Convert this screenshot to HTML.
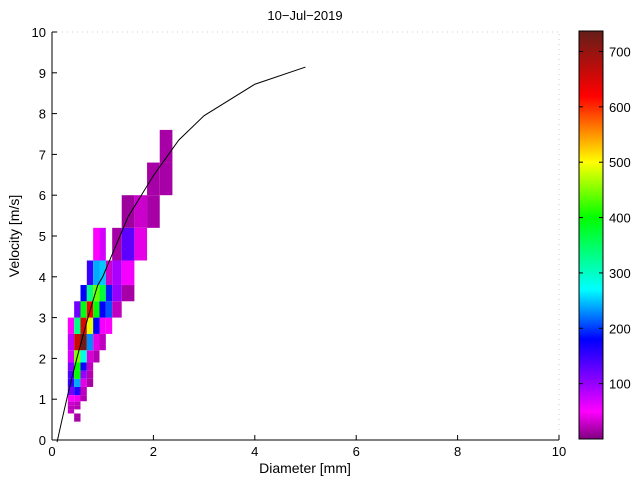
<!DOCTYPE html>
<html><head><meta charset="utf-8"><style>
body{margin:0;background:#fff;}
svg{display:block;font-family:"Liberation Sans",Arial,sans-serif;}
</style></head><body>
<svg id="chart" width="640" height="480" viewBox="0 0 640 480">
<rect width="640" height="480" fill="#fff"/>
<text x="305" y="20" font-size="13" text-anchor="middle">10−Jul−2019</text>
<g id="cells"></g>
<g id="axes"></g>
<g id="cbar"></g>
<text x="305" y="473" font-size="14" text-anchor="middle">Diameter [mm]</text>
<text transform="translate(19,236) rotate(-90)" font-size="14" text-anchor="middle">Velocity [m/s]</text>
</svg>
<script>
// Diameter bin edges (mm) and velocity bin edges (m/s)
const xEdges = [0.312,0.437,0.562,0.687,0.812,0.937,1.062,1.187,1.375,1.625,1.875,2.125,2.375];
const yEdges = [0.45,0.55,0.65,0.75,0.85,0.95,1.1,1.3,1.5,1.7,1.9,2.2,2.6,3.0,3.4,3.8,4.4,5.2,6.0,6.8,7.6];
// counts[row][col], row 0 = lowest velocity bin; 0 = empty
const counts = [
 [0,15,0,0,0,0,0,0,0,0,0,0],
 [0,15,0,0,0,0,0,0,0,0,0,0],
 [25,0,0,0,0,0,0,0,0,0,0,0],
 [25,20,0,0,0,0,0,0,0,0,0,0],
 [30,25,0,0,0,0,0,0,0,0,0,0],
 [50,45,20,0,0,0,0,0,0,0,0,0],
 [120,160,25,0,0,0,0,0,0,0,0,0],
 [150,240,40,15,0,0,0,0,0,0,0,0],
 [140,400,100,20,0,0,0,0,0,0,0,0],
 [110,400,170,25,0,0,0,0,0,0,0,0],
 [70,450,280,35,20,0,0,0,0,0,0,0],
 [80,660,730,230,40,25,0,0,0,0,0,0],
 [50,330,650,490,180,55,50,0,0,0,0,0],
 [0,120,390,620,400,180,210,25,0,0,0,0],
 [0,0,180,330,440,370,190,100,15,0,0,0],
 [0,0,0,150,240,250,30,90,55,0,0,0],
 [0,0,0,0,50,70,0,15,130,40,0,0],
 [0,0,0,0,0,0,0,0,12,30,15,0],
 [0,0,0,0,0,0,0,0,0,0,15,15],
 [0,0,0,0,0,0,0,0,0,0,0,15]
];
// Fitted fall-speed curve
const fitD = [0.1,0.2,0.3,0.4,0.5,0.6,0.7,0.8,0.9,1.0,1.5,2.0,2.5,3.0,4.0,5.0];
const fitV = [-0.05,0.51,1.05,1.56,2.05,2.51,2.96,3.38,3.79,4.00,5.47,6.48,7.35,7.95,8.72,9.14];
const xTicks = [0,2,4,6,8,10];
const yTicks = [0,1,2,3,4,5,6,7,8,9,10];
const cbTicks = [100,200,300,400,500,600,700];
const cbMin = 0, cbMax = 737;

const NS='http://www.w3.org/2000/svg';
const X0=52,X1=559,Y0=440,Y1=32;
const sx=d=>X0+(d-0)/(10-0)*(X1-X0);
const sy=v=>Y0-(v-0)/(10-0)*(Y0-Y1);
const CB={x:579,w:24,top:31,bot:439};
const cy=c=>CB.bot-(c-cbMin)/(cbMax-cbMin)*(CB.bot-CB.top);
const stops=[[0,[128,0,128]],[50,[255,0,255]],[100,[150,0,255]],[180,[0,0,255]],[270,[0,255,255]],[400,[0,255,0]],[500,[255,255,0]],[620,[255,0,0]],[737,[100,30,25]]];
function color(v){
 for(let i=0;i<stops.length-1;i++){const a=stops[i],b=stops[i+1];
  if(v<=b[0]){const t=Math.max(0,(v-a[0])/(b[0]-a[0]));
   return 'rgb('+a[1].map((c,k)=>Math.round(c+(b[1][k]-c)*t)).join(',')+')';}}
 return 'rgb(100,30,25)';
}
function mk(tag,attrs,parent){const e=document.createElementNS(NS,tag);for(const k in attrs)e.setAttribute(k,attrs[k]);parent.appendChild(e);return e;}
const gc=document.getElementById('cells');
counts.forEach((row,r)=>row.forEach((c,i)=>{
 if(!c)return;
 const x=sx(xEdges[i]),x2=sx(xEdges[i+1]),y=sy(yEdges[r+1]),y2=sy(yEdges[r]);
 const el=mk('rect',{x:x,y:y,width:x2-x,height:y2-y,fill:color(c)},gc);
 
 
}));
const ga=document.getElementById('axes');
const fit=mk('polyline',{points:fitD.map((d,i)=>sx(d)+','+sy(fitV[i])).join(' '),fill:'none',stroke:'#000','stroke-width':1},ga);


const xa=mk('line',{x1:X0,y1:Y0,x2:X1,y2:Y0,stroke:'#000'},ga);


const ya=mk('line',{x1:X0,y1:Y0,x2:X0,y2:Y1,stroke:'#000'},ga);


mk('line',{x1:X0,y1:Y1,x2:X1,y2:Y1,stroke:'#ccc','stroke-dasharray':'1,4'},ga);
mk('line',{x1:X1,y1:Y0,x2:X1,y2:Y1,stroke:'#ccc','stroke-dasharray':'1,4'},ga);
xTicks.forEach(t=>{
 mk('line',{x1:sx(t),y1:Y0,x2:sx(t),y2:Y0-5,stroke:'#000'},ga);
 const tx=mk('text',{x:sx(t),y:Y0+16,'font-size':13,'text-anchor':'middle'},ga);
 tx.textContent=t;
 
 
});
yTicks.forEach(t=>{
 mk('line',{x1:X0,y1:sy(t),x2:X0+5,y2:sy(t),stroke:'#000'},ga);
 const tx=mk('text',{x:X0-6,y:sy(t)+5,'font-size':13,'text-anchor':'end'},ga);
 tx.textContent=t;
 
 
});
const gb=document.getElementById('cbar');
const defs=mk('defs',{},gb);
const lg=mk('linearGradient',{id:'cg',x1:0,y1:1,x2:0,y2:0},defs);
stops.forEach(s=>mk('stop',{offset:(s[0]-cbMin)/(cbMax-cbMin),'stop-color':color(s[0])},lg));
mk('rect',{x:CB.x,y:CB.top,width:CB.w,height:CB.bot-CB.top,fill:'url(#cg)',stroke:'#000'},gb);
cbTicks.forEach(t=>{
 mk('line',{x1:CB.x+CB.w,y1:cy(t),x2:CB.x+CB.w-4,y2:cy(t),stroke:'#000'},gb);
 mk('line',{x1:CB.x,y1:cy(t),x2:CB.x+4,y2:cy(t),stroke:'#000'},gb);
 const tx=mk('text',{x:CB.x+CB.w+6,y:cy(t)+5,'font-size':13},gb);
 tx.textContent=t;
 
 
});
</script>
</body></html>
